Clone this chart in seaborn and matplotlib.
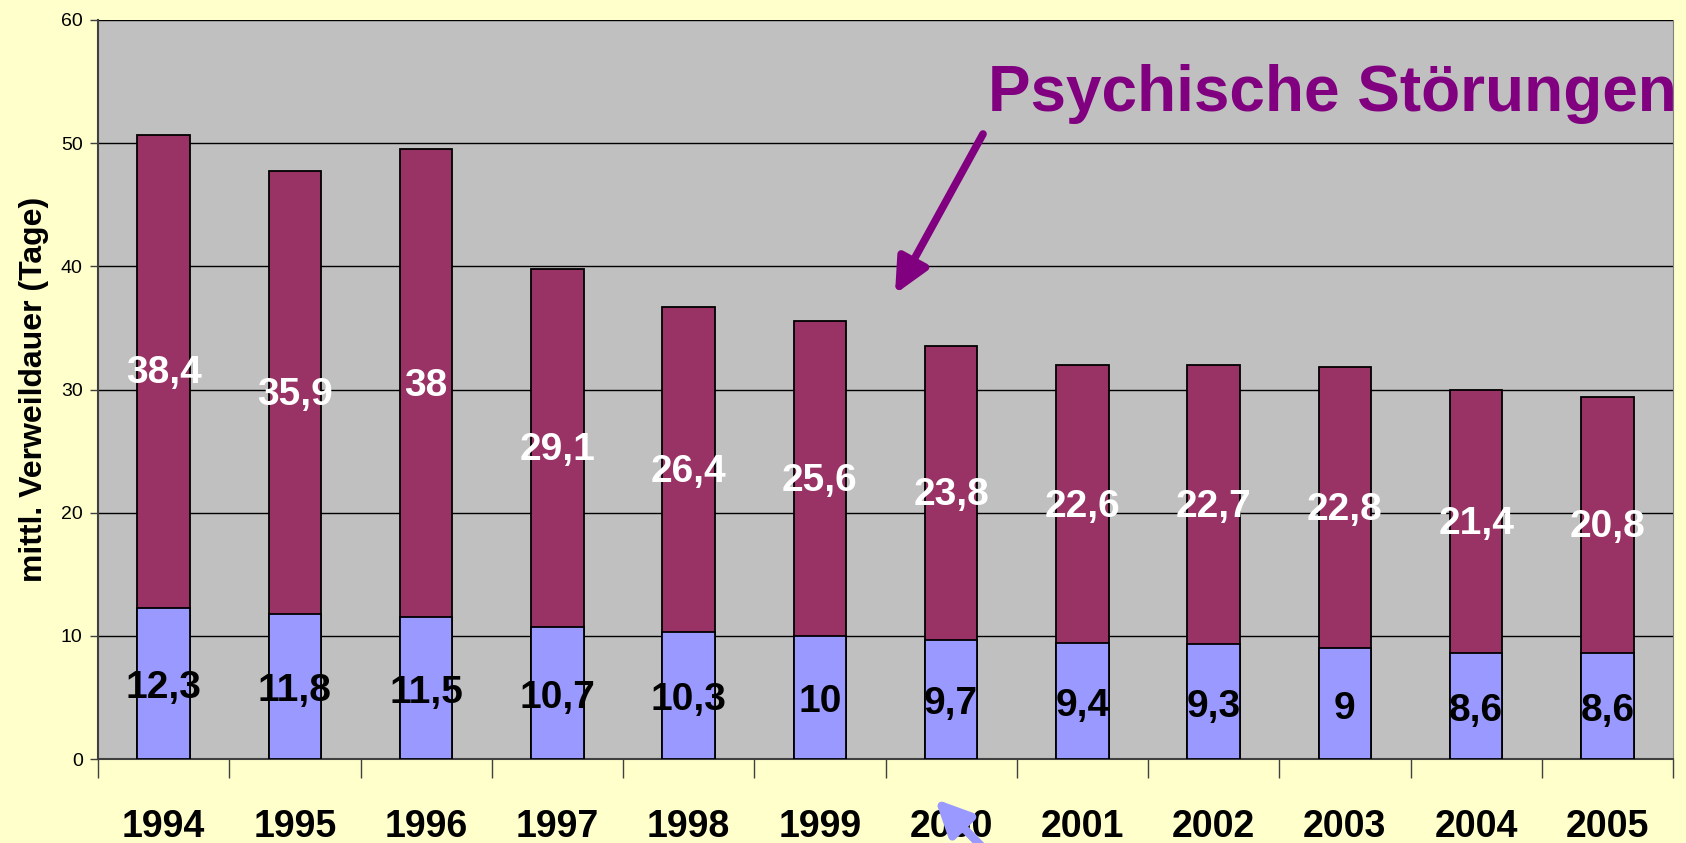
import matplotlib
matplotlib.use("Agg")
import matplotlib.pyplot as plt
import seaborn as sns
import pandas as pd
from matplotlib.ticker import FixedLocator

# -----------------------------
# Data
# -----------------------------

years = ["1994", "1995", "1996", "1997", "1998", "1999",
         "2000", "2001", "2002", "2003", "2004", "2005"]

lower_vals = [12.3, 11.8, 11.5, 10.7, 10.3, 10, 9.7, 9.4, 9.3, 9, 8.6, 8.6]

upper_vals = [38.4, 35.9, 38, 29.1, 26.4, 25.6, 23.8, 22.6, 22.7, 22.8, 21.4, 20.8]

y_ticks = [0, 10, 20, 30, 40, 50, 60]

y_label = "mittl. Verweildauer (Tage)"
note_text = "Psychische Störungen"

# -----------------------------
# Style
# -----------------------------

bg_color = "#FFFFCC"
plot_color = "#C0C0C0"
lower_color = "#9999FF"
upper_color = "#993366"
note_color = "#800080"

sns.set_style("white")
plt.rcParams["font.family"] = ["Liberation Sans", "DejaVu Sans"]
plt.rcParams["text.color"] = "black"
plt.rcParams["axes.labelcolor"] = "black"
plt.rcParams["xtick.color"] = "black"
plt.rcParams["ytick.color"] = "black"

df = pd.DataFrame({
    "Jahr": years,
    "lower": lower_vals,
    "upper": upper_vals,
})
df["total"] = df["lower"] + df["upper"]

fig = plt.figure(figsize=(16.86, 8.43), dpi=100, facecolor=bg_color)
ax = fig.add_axes([98 / 1686, 84 / 843, 1575 / 1686, 739 / 843])
ax.set_facecolor(plot_color)

# stacked bars: total first, lower part on top of it
sns.barplot(
    data=df, x="Jahr", y="total",
    color=upper_color, saturation=1, width=0.4,
    edgecolor="black", linewidth=1.3, ax=ax, zorder=3
)
sns.barplot(
    data=df, x="Jahr", y="lower",
    color=lower_color, saturation=1, width=0.4,
    edgecolor="black", linewidth=1.3, ax=ax, zorder=4
)


def fmt(v):
    return f"{v:g}".replace(".", ",")


for i, row in df.iterrows():
    ax.text(i, row["lower"] / 2 - 0.4, fmt(row["lower"]),
            ha="center", va="center", fontsize=28,
            fontweight="bold", color="black", zorder=6)
    ax.text(i, row["lower"] + row["upper"] / 2 - 0.2, fmt(row["upper"]),
            ha="center", va="center", fontsize=28,
            fontweight="bold", color="white", zorder=6)

# -----------------------------
# Axes
# -----------------------------

ax.set_ylim(0, 60)
ax.set_xlim(-0.5, len(years) - 0.5)
ax.set_yticks(y_ticks)
ax.yaxis.grid(True, color="black", linewidth=1)
ax.set_axisbelow(True)

ax.tick_params(axis="y", labelsize=14, length=6, width=1,
               color="#404040", labelcolor="black", pad=5, left=True)
ax.tick_params(axis="x", which="major", length=0, pad=36,
               labelsize=27, labelcolor="black")
for lab in ax.get_xticklabels():
    lab.set_fontweight("bold")

ax.xaxis.set_minor_locator(FixedLocator([i - 0.5 for i in range(len(years) + 1)]))
ax.tick_params(axis="x", which="minor", length=14, width=1,
               color="#404040", bottom=True)

ax.set_xlabel("")
ax.set_ylabel(y_label, fontsize=23, fontweight="bold", color="black")
ax.yaxis.set_label_coords(-0.031, 0.5)

for side in ["left", "bottom"]:
    ax.spines[side].set_color("#404040")
    ax.spines[side].set_linewidth(1.5)
ax.spines["right"].set_color("#808080")
ax.spines["top"].set_visible(False)

# -----------------------------
# Annotations
# -----------------------------

fig.text(1677 / 1686, 1 - 111 / 843, note_text, ha="right",
         va="baseline", fontsize=46, fontweight="bold",
         color=note_color)

head = "-|>,head_length=0.42,head_width=0.2"

ax.annotate(
    "", xy=(895, 843 - 294), xytext=(983, 843 - 134),
    xycoords="figure pixels", textcoords="figure pixels",
    arrowprops=dict(arrowstyle=head, color=note_color, lw=5.5,
                    mutation_scale=50, shrinkA=0, shrinkB=0),
    annotation_clip=False, zorder=8
)

ax.annotate(
    "", xy=(935, 843 - 799), xytext=(998, -20),
    xycoords="figure pixels", textcoords="figure pixels",
    arrowprops=dict(arrowstyle=head, color=lower_color, lw=6,
                    mutation_scale=50, shrinkA=0, shrinkB=0),
    annotation_clip=False, zorder=8
)

fig.savefig("out.png", dpi=100, facecolor=bg_color)
plt.close(fig)
